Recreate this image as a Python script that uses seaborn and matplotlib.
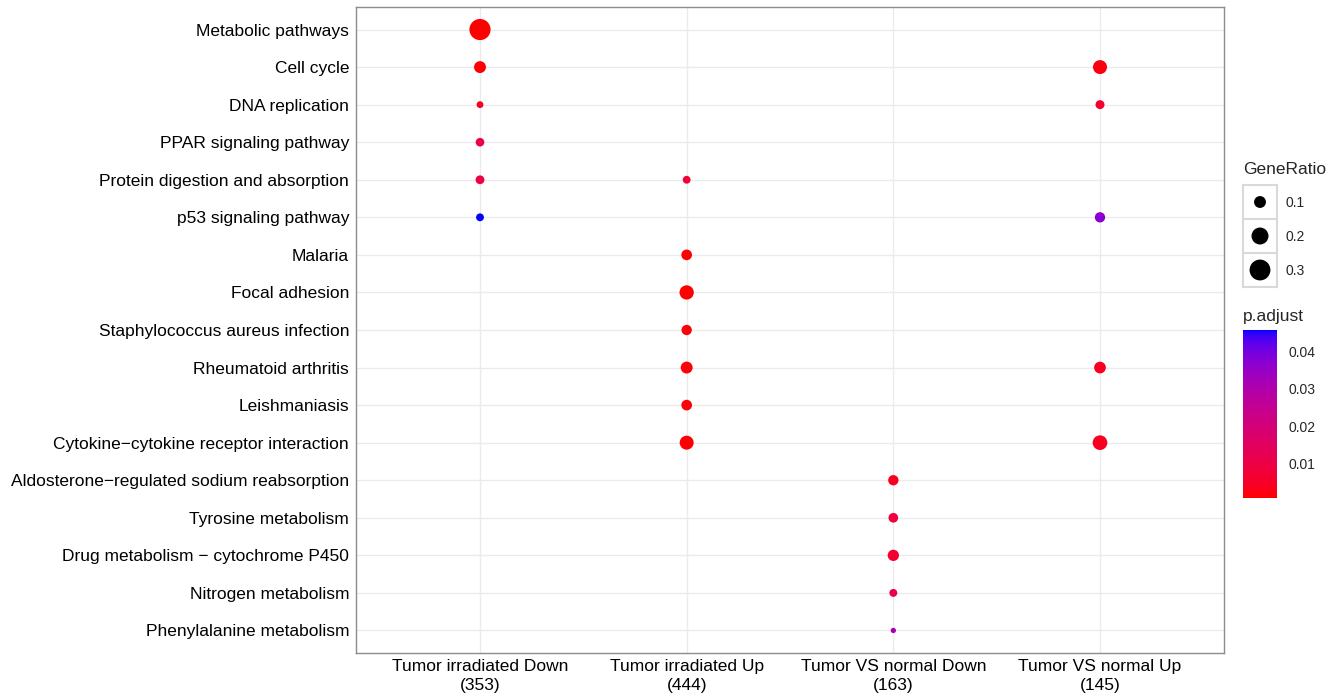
####################################################
# IMPORT STATEMENTS
####################################################

# >>>>>>  Native Imports  <<<<<<<
import warnings
warnings.filterwarnings("ignore")

# >>>>>>  Package Imports <<<<<<<
import numpy as np
import pandas as pd

import seaborn as sns
import matplotlib
matplotlib.use("Agg")
import matplotlib.pyplot as plt
from matplotlib.colors import ListedColormap, Normalize
from matplotlib.cm import ScalarMappable


####################################################
# DATA
####################################################
groups = ["Tumor irradiated Down\n(353)", "Tumor irradiated Up\n(444)",
          "Tumor VS normal Down\n(163)", "Tumor VS normal Up\n(145)"]

pathways = ["Metabolic pathways", "Cell cycle", "DNA replication",
            "PPAR signaling pathway", "Protein digestion and absorption",
            "p53 signaling pathway", "Malaria", "Focal adhesion",
            "Staphylococcus aureus infection", "Rheumatoid arthritis",
            "Leishmaniasis", "Cytokine\u2212cytokine receptor interaction",
            "Aldosterone\u2212regulated sodium reabsorption", "Tyrosine metabolism",
            "Drug metabolism \u2212 cytochrome P450", "Nitrogen metabolism",
            "Phenylalanine metabolism"]

# per group: pathway index, GeneRatio, p.adjust
irr_down_terms = [0, 1, 2, 3, 4, 5]
irr_down_ratio = [0.31, 0.10, 0.035, 0.054, 0.056, 0.045]
irr_down_padj = [0.0010, 0.0012, 0.004, 0.010, 0.010, 0.0456]

irr_up_terms = [4, 6, 7, 8, 9, 10, 11]
irr_up_ratio = [0.045, 0.081, 0.143, 0.076, 0.10, 0.081, 0.137]
irr_up_padj = [0.008, 0.0012, 0.0011, 0.0015, 0.0013, 0.0015, 0.0012]

vs_down_terms = [12, 13, 14, 15, 16]
vs_down_ratio = [0.076, 0.067, 0.09, 0.046, 0.022]
vs_down_padj = [0.004, 0.009, 0.006, 0.013, 0.032]

vs_up_terms = [1, 2, 5, 9, 11]
vs_up_ratio = [0.137, 0.058, 0.076, 0.097, 0.15]
vs_up_padj = [0.002, 0.006, 0.037, 0.004, 0.004]

size_breaks = [0.1, 0.2, 0.3]
padj_breaks = [0.01, 0.02, 0.03, 0.04]


####################################################
# CODE
####################################################
def build_frame():
    rows = []
    sets = [(irr_down_terms, irr_down_ratio, irr_down_padj),
            (irr_up_terms, irr_up_ratio, irr_up_padj),
            (vs_down_terms, vs_down_ratio, vs_down_padj),
            (vs_up_terms, vs_up_ratio, vs_up_padj)]
    for g, (terms, ratio, padj) in zip(groups, sets):
        for t, r, p in zip(terms, ratio, padj):
            rows.append({"group": g, "pathway": pathways[t],
                         "GeneRatio": r, "p.adjust": p})
    return pd.DataFrame(rows)


def lab_gradient(low, high, n=256):
    # ggplot style gradient: interpolate in CIE Lab
    white = np.array([0.95047, 1.0, 1.08883])
    M = np.array([[0.4124, 0.3576, 0.1805],
                  [0.2126, 0.7152, 0.0722],
                  [0.0193, 0.1192, 0.9505]])

    def to_lab(rgb):
        c = np.where(rgb <= 0.04045, rgb / 12.92, ((rgb + 0.055) / 1.055) ** 2.4)
        t = (M @ c) / white
        f = np.where(t > 0.008856, np.cbrt(t), 7.787 * t + 16 / 116)
        return np.array([116 * f[1] - 16, 500 * (f[0] - f[1]), 200 * (f[1] - f[2])])

    def to_rgb(lab):
        fy = (lab[0] + 16) / 116
        f = np.array([fy + lab[1] / 500, fy, fy - lab[2] / 200])
        t = np.where(f ** 3 > 0.008856, f ** 3, (f - 16 / 116) / 7.787) * white
        c = np.linalg.solve(M, t)
        c = np.where(c <= 0.0031308, 12.92 * c, 1.055 * np.clip(c, 0, None) ** (1 / 2.4) - 0.055)
        return np.clip(c, 0, 1)

    a, b = to_lab(np.array(low, float)), to_lab(np.array(high, float))
    return ListedColormap([to_rgb(a + (b - a) * k) for k in np.linspace(0, 1, n)])


def dot_plot():
    df = build_frame()
    cmap = lab_gradient((1, 0, 0), (0, 0, 1))
    norm = Normalize(0.0009, 0.0456)
    size_norm = (0.02, 0.32)
    sizes = (13, 240)

    fig = plt.figure(figsize=(13.4, 6.98), dpi=100)
    ax = fig.add_axes([356 / 1340, 1 - 653 / 698, 868 / 1340, 646 / 698])

    sns.scatterplot(data=df, x="group", y="pathway", hue="p.adjust", palette=cmap,
                    hue_norm=norm, size="GeneRatio", sizes=sizes, size_norm=size_norm,
                    linewidth=0, legend=False, ax=ax, zorder=3)

    ax.set_xlim(-0.6, len(groups) - 0.4)
    ax.set_ylim(len(pathways) - 0.4, -0.6)
    ax.set_xlabel("")
    ax.set_ylabel("")
    ax.grid(True, color="#EBEBEB", linewidth=1)
    ax.set_axisbelow(True)
    for s in ax.spines.values():
        s.set_color("#8C8C8C")
        s.set_linewidth(1)
    ax.tick_params(length=3, width=0.8, color="#555555", labelsize=12.5,
                   labelcolor="black", pad=2)
    ax.tick_params(axis="x", pad=1.5)
    for lab in ax.get_xticklabels():
        lab.set_linespacing(1.3)

    # GeneRatio legend
    lax = fig.add_axes([1243 / 1340, 1 - 287 / 698, 34 / 1340, 102 / 698])
    vals = np.array(size_breaks)
    s = sizes[0] + (vals - size_norm[0]) / (size_norm[1] - size_norm[0]) * (sizes[1] - sizes[0])
    lax.scatter(np.zeros(len(vals)), np.arange(len(vals)), s=s, color="black", linewidths=0)
    lax.set_xlim(-0.5, 0.5)
    lax.set_ylim(len(vals) - 0.5, -0.5)
    for y in np.arange(len(vals) - 1) + 0.5:
        lax.axhline(y, color="#D9D9D9", linewidth=1.5)
    for sp in lax.spines.values():
        sp.set_color("#D9D9D9")
        sp.set_linewidth(1.5)
    lax.set_xticks([])
    lax.set_yticks(np.arange(len(vals)))
    lax.set_yticklabels([f"{v:.1f}" for v in vals])
    lax.yaxis.tick_right()
    lax.tick_params(length=0, labelsize=10, pad=6)
    fig.text(1243 / 1340, 1 - 170 / 698, "GeneRatio", fontsize=12.5, va="center", ha="left")

    # p.adjust colorbar
    cax = fig.add_axes([1243 / 1340, 1 - 498 / 698, 34 / 1340, 168 / 698])
    cb = fig.colorbar(ScalarMappable(norm=norm, cmap=cmap), cax=cax, ticks=padj_breaks)
    cb.outline.set_visible(False)
    cax.set_yticklabels([f"{v:.2f}" for v in padj_breaks])
    cax.tick_params(left=True, right=True, direction="in", length=6, width=1,
                    color="#F0F0F0", labelsize=10, pad=8)
    fig.text(1243 / 1340, 1 - 317 / 698, "p.adjust", fontsize=12.5, va="center", ha="left")

    fig.savefig("out.png", dpi=100)


####################################################
# MAIN
####################################################
if __name__ == "__main__":

    sns.set_style("white")
    plt.rcParams["font.family"] = ["Liberation Sans", "DejaVu Sans"]
    dot_plot()



# EOF
